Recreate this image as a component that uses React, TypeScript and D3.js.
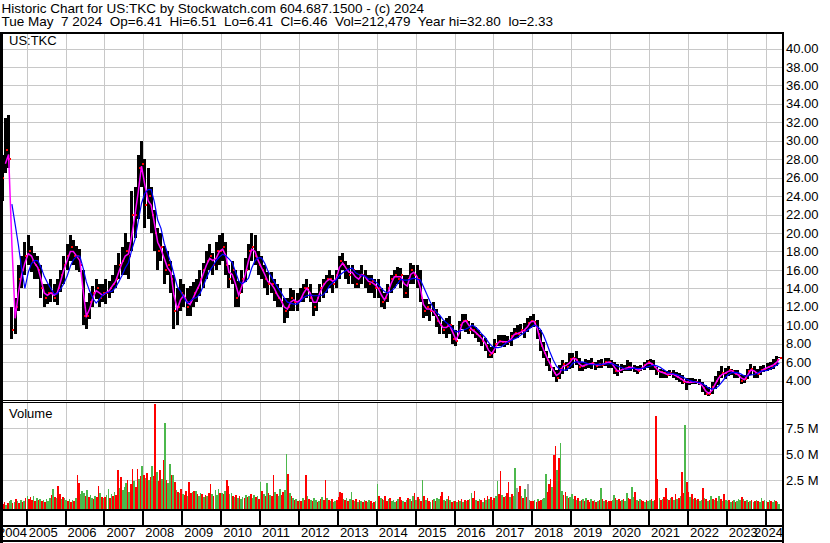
import React from 'react';
import * as d3 from 'd3';

const W = 830;
const H = 543;
const FONT = '"Liberation Sans", Arial, Helvetica, sans-serif';

const HEADER_LINE_1 = 'Historic Chart for US:TKC by Stockwatch.com 604.687.1500 - (c) 2024';
const HEADER_LINE_2 = 'Tue May  7 2024  Op=6.41  Hi=6.51  Lo=6.41  Cl=6.46  Vol=212,479  Year hi=32.80  lo=2.33';
const SYMBOL = 'US:TKC';
const VOLUME_TITLE = 'Volume';

const YEAR_LABELS = [2004, 2005, 2006, 2007, 2008, 2009, 2010, 2011, 2012, 2013, 2014, 2015, 2016, 2017, 2018, 2019, 2020, 2021, 2022, 2023, 2024];
const PRICE_TICKS = [4, 6, 8, 10, 12, 14, 16, 18, 20, 22, 24, 26, 28, 30, 32, 34, 36, 38, 40];
const VOLUME_TICKS = [2.5, 5, 7.5];

// Monthly bars, May 2004 .. May 2024
const PRICE_LOW = [
  23.5, 26.5, 27, 8.5, 9, 11.5, 14, 15.5,
  16.5, 15.8, 15, 15, 13, 12, 12.3, 12.5, 12.5, 12.2, 13.6, 14.5,
  16, 17, 16.5, 16, 15.8, 10, 9.6, 10.7, 12, 12.8, 12, 12.5,
  12.3, 13, 13.5, 14, 15, 15.5, 15.5, 15, 18, 19.5, 21.5, 25,
  20.5, 21.5, 20, 18, 16, 17, 14.5, 15.5, 13.5, 9.6, 10, 11.5,
  12, 11, 11, 12, 12.5, 13.2, 14, 15, 16, 15.5, 16, 16.5,
  17, 15.5, 14, 14.5, 12, 12, 13.5, 14.7, 16, 17, 16.5, 15.5,
  15, 14, 13.3, 13.5, 12.6, 12, 12, 10.2, 10.8, 11.5, 11.5, 11.5,
  12.5, 12.5, 13, 12.5, 11, 11.5, 12.5, 13, 13.5, 14, 13.5, 14,
  15, 16, 15, 14.5, 14.5, 14, 14, 14.5, 14, 13.5, 13.5, 13,
  13, 12, 11.8, 12.5, 13.5, 14, 14.5, 14, 13, 13, 14.5, 14.5,
  14, 12.5, 10.8, 11, 10.5, 11, 9.8, 9, 9, 8.6, 9, 8,
  7.8, 8.5, 9.6, 9.3, 9, 9, 8.6, 8.2, 7.8, 7.2, 6.4, 6.4,
  7, 7.7, 7.8, 7.6, 7.9, 7.8, 8.5, 8.6, 9, 8.6, 9.3, 9.7,
  9.8, 8.5, 7.2, 6.5, 5.6, 5, 4.4, 3.9, 4.2, 4.7, 5, 5.3,
  5.4, 5.7, 5, 5, 5.3, 5.4, 5.3, 5.2, 5.4, 5.4, 5.6, 5.4,
  5.4, 4.7, 4.5, 4.8, 5, 5, 5, 4.9, 4.7, 5, 5.2, 5.4,
  5.2, 5.1, 4.6, 4.3, 4.3, 4.3, 4.5, 4.3, 4.1, 3.9, 3.6, 3,
  3.5, 3.6, 3.6, 3.5, 2.8, 2.4, 2.33, 2.6, 3.1, 3.5, 4.3, 4.2,
  4.5, 4.6, 4.3, 4.3, 3.6, 3.7, 4.2, 4.6, 4.3, 4.3, 4.6, 4.9,
  5, 5.2, 5.3, 5.6, 6.41,
];

const PRICE_HIGH = [
  28.5, 32.5, 32.8, 12, 13, 16.5, 17.5, 19,
  19.8, 18.6, 17.8, 17.5, 16.5, 14.5, 14.5, 15, 14.5, 15, 16, 17.5,
  18.8, 19.8, 19.2, 18.6, 18.3, 16, 12.5, 13.5, 14.3, 15, 14.5, 14.5,
  15, 14.8, 15.5, 16.5, 17.8, 18.5, 20, 19, 24.5, 25, 28.5, 30,
  28, 27, 25, 22.5, 20.5, 20, 18.6, 18, 17, 15.5, 14, 15,
  14.5, 14, 14.3, 14.7, 15, 16, 16.8, 18, 18.8, 17.8, 19, 19.8,
  20, 19, 16.5, 17, 16, 14.8, 16, 17.3, 18.8, 20, 19.8, 18,
  17.5, 16.5, 15.8, 15.8, 15, 14.5, 14, 13, 13, 14, 13.8, 13.5,
  14, 14.5, 15, 14.5, 13.5, 13.5, 14.5, 15, 15.5, 16, 15.5, 16,
  17.5, 17.8, 17, 16.5, 16.5, 16, 16, 16.5, 16, 15.5, 15.5, 15,
  15, 14, 13.5, 14.5, 15.5, 16, 16.3, 16.2, 15.5, 15.5, 16.8, 16.5,
  16.5, 16, 12.8, 12.8, 12.3, 12.5, 11.8, 11, 10.5, 10.8, 11, 10,
  9.5, 10.5, 11.2, 11.2, 10.5, 10.2, 9.8, 9.5, 9, 8.6, 8, 7.6,
  8.5, 8.9, 8.9, 8.9, 8.8, 9.3, 9.7, 10, 10.1, 10.2, 10.8, 11,
  11.2, 10.6, 9.5, 8.2, 7.2, 6.5, 5.5, 5.1, 5.7, 6.2, 6, 7,
  7, 7.2, 6.5, 6, 6.3, 6.2, 6.4, 6, 6.2, 6.3, 6.4, 6.4,
  6.2, 6, 5.8, 5.8, 5.7, 6.2, 6, 5.7, 5.6, 5.7, 6, 6.2,
  6.3, 6.2, 5.5, 5.3, 5.2, 5, 5.1, 5.1, 4.9, 4.8, 4.6, 4.3,
  4.3, 4.3, 4.2, 4.2, 3.9, 3.5, 3.3, 3.8, 4.5, 5, 5.6, 5.4,
  5.6, 5.3, 5.2, 5.1, 4.6, 4.6, 5.3, 5.8, 5.6, 5.3, 5.6, 5.7,
  5.9, 6, 6.3, 6.7, 6.51,
];

const PRICE_CLOSE = [
  26, 29, 28, 9.5, 12, 15, 16, 17.5,
  18, 17, 16.5, 16, 14, 13, 13.5, 13.5, 13, 14, 15.5, 16.5,
  17.5, 18.5, 17.5, 17.5, 16.5, 11, 11, 12.5, 13.5, 14, 13, 13.5,
  13.5, 14, 14.5, 15, 16.5, 17, 18, 17.5, 22, 22, 27, 27.5,
  23, 24, 22, 20, 18, 18.5, 16, 16.5, 15, 11.5, 12, 13.5,
  13, 12, 12.5, 13.5, 14, 15, 16, 17, 17.5, 16.5, 18, 18,
  18.5, 16.5, 15, 16, 13, 13.5, 15, 16, 18, 18.5, 17.5, 16.5,
  16, 15, 14.5, 14.5, 13.5, 13, 12.5, 11.5, 12, 13, 12.5, 12.5,
  13, 14, 14, 13, 12, 13, 14, 14.5, 15, 15, 14.5, 15.5,
  17, 16.5, 16, 15.5, 16, 14.5, 15.5, 15.5, 15, 14.5, 14.8, 14,
  14, 12.5, 13, 14, 15, 15.5, 15, 15.5, 13.5, 15, 16, 15.5,
  15, 13, 11.5, 12, 11.5, 11.5, 10.5, 10, 9.5, 10, 10, 8.5,
  8.3, 10, 10.5, 10.5, 9.5, 9.5, 9, 8.8, 8.3, 7.8, 6.8, 7,
  8, 8.3, 8.2, 8.2, 8.2, 8.8, 9.2, 9, 9.5, 9.4, 10.2, 10.5,
  10.4, 9, 7.8, 7, 6.2, 5.5, 4.8, 4.3, 5.3, 5.8, 5.5, 6.3,
  6.5, 6.2, 5.5, 5.6, 5.8, 5.8, 5.9, 5.6, 5.8, 5.7, 6, 6,
  5.8, 5, 5, 5.3, 5.3, 5.5, 5.4, 5.3, 5, 5.4, 5.7, 6,
  5.8, 5.5, 5, 4.9, 4.8, 4.6, 4.8, 4.6, 4.4, 4.2, 3.9, 3.8,
  3.8, 3.9, 3.8, 3.7, 3.2, 2.6, 2.6, 3.3, 4, 4.5, 4.8, 4.8,
  5.2, 5, 4.7, 4.6, 4, 4.2, 5, 5.3, 4.8, 4.7, 5.2, 5.3,
  5.5, 5.6, 5.8, 6.2, 6.46,
];

// Half-month volume in millions, May 2004 .. May 2024
const VOLUME_M = [
  0.3, 0.2, 0.4, 0.1, 0.3, 0.5, 0.6, 0.3, 0.4, 0.7, 0.5, 0.3, 0.6, 0.4, 0.5, 0.8,
  1.0, 0.7, 0.9, 0.6, 1.0, 0.5, 0.8, 0.6, 0.7, 0.5, 0.6, 0.4, 0.7, 0.5, 0.8, 1.1, 1.7, 0.9, 0.8, 2.0, 1.2, 0.7, 0.9, 0.8,
  0.6, 0.5, 0.7, 0.4, 0.6, 0.5, 0.8, 3.0, 2.2, 1.2, 1.5, 1.3, 1.0, 1.6, 0.9, 1.1, 0.8, 0.7, 1.0, 0.9, 2.0, 1.3, 0.9, 0.8,
  0.9, 1.1, 1.7, 0.8, 1.2, 1.0, 1.4, 1.1, 3.5, 1.8, 2.8, 1.6, 1.9, 2.2, 2.5, 1.4, 2.1, 3.6, 2.4, 1.9, 3.6, 2.6, 2.9, 3.9,
  3.0, 2.7, 3.2, 2.5, 2.8, 3.9, 2.9, 9.8, 3.3, 2.4, 3.5, 2.6, 4.5, 8.0, 2.5, 2.2, 4.1, 3.0, 3.0, 2.3, 1.6, 1.4, 1.3, 1.7,
  1.2, 1.1, 1.5, 1.0, 2.3, 1.3, 1.4, 1.5, 1.5, 1.2, 1.0, 1.3, 1.2, 0.9, 1.1, 1.0, 1.3, 2.1, 1.2, 1.0, 1.6, 1.1, 1.7, 1.3,
  1.3, 1.2, 1.5, 2.5, 2.0, 1.2, 1.3, 1.0, 0.9, 1.1, 0.8, 1.0, 0.7, 0.9, 0.8, 1.1, 0.9, 1.0, 1.2, 0.8, 1.1, 0.9, 1.0, 0.7,
  2.3, 1.5, 1.2, 1.0, 2.2, 1.3, 1.1, 1.0, 3.0, 1.4, 1.2, 1.0, 1.7, 1.1, 1.4, 1.6, 5.0, 3.1, 1.3, 1.0, 0.8, 0.6, 0.7, 0.5,
  0.6, 0.5, 0.8, 0.6, 3.0, 1.0, 0.7, 0.6, 0.5, 0.8, 0.6, 0.4, 0.5, 0.7, 0.9, 0.6, 2.5, 0.8, 0.6, 0.5, 0.7, 0.4, 0.5, 0.6,
  0.9, 1.4, 1.3, 0.7, 0.6, 0.8, 0.5, 0.7, 1.4, 0.6, 0.5, 0.7, 0.4, 0.6, 0.5, 0.4, 0.6, 0.5, 0.4, 0.6, 0.5, 0.3, 0.4, 0.5,
  2.1, 1.0, 0.8, 0.7, 0.6, 1.0, 0.5, 0.7, 0.8, 0.5, 0.6, 0.4, 0.5, 0.7, 0.9, 0.6, 0.5, 0.4, 0.6, 0.8, 0.7, 0.5, 1.0, 1.3,
  0.6, 0.9, 0.7, 0.5, 2.5, 1.0, 0.6, 0.8, 0.5, 0.4, 0.6, 0.7, 0.5, 0.8, 0.7, 1.0, 1.4, 0.6, 0.5, 0.7, 1.0, 0.6, 0.4, 0.5,
  0.5, 0.4, 0.6, 0.5, 0.7, 0.4, 0.6, 0.5, 0.6, 0.7, 1.3, 0.8, 1.5, 0.6, 0.5, 0.7, 0.6, 0.4, 0.8, 0.6, 1.0, 0.7, 0.9, 0.6,
  0.8, 1.0, 2.4, 1.2, 3.4, 1.1, 0.9, 1.0, 1.3, 2.3, 0.9, 1.2, 1.0, 3.7, 1.8, 1.4, 2.0, 1.0, 0.8, 1.7, 0.9, 2.1, 0.6, 0.5,
  0.5, 0.6, 0.4, 0.7, 0.5, 0.6, 0.7, 0.8, 3.1, 1.4, 2.1, 2.6, 1.9, 4.9, 5.8, 3.5, 4.6, 6.1, 1.5, 1.1, 1.4, 1.0, 0.8, 0.9,
  1.2, 0.7, 1.0, 0.6, 0.8, 0.5, 0.6, 0.7, 0.5, 0.8, 0.6, 0.4, 0.7, 0.5, 0.6, 0.4, 0.5, 0.6, 1.8, 0.7, 0.5, 0.6, 0.4, 0.5,
  0.5, 0.6, 1.1, 0.8, 0.6, 0.7, 0.5, 0.6, 0.7, 0.5, 1.3, 0.8, 0.7, 1.9, 0.9, 1.4, 0.6, 0.5, 0.7, 0.6, 0.5, 0.4, 0.6, 0.5,
  0.6, 0.7, 0.5, 0.6, 8.7, 2.6, 0.8, 0.6, 0.7, 0.9, 1.8, 0.7, 0.6, 0.8, 0.9, 0.6, 1.2, 0.7, 0.8, 1.0, 3.3, 1.3, 7.8, 2.3,
  1.4, 0.9, 1.2, 0.7, 0.8, 0.6, 0.7, 0.5, 0.6, 1.8, 0.8, 0.7, 0.5, 0.6, 1.0, 0.7, 0.6, 0.8, 0.5, 1.0, 0.7, 0.5, 1.2, 0.6,
  0.5, 0.6, 0.4, 0.5, 0.6, 0.4, 0.5, 0.7, 0.6, 0.9, 0.7, 0.5, 0.6, 0.4, 0.5, 0.6, 0.4, 0.5, 0.6, 0.5, 0.4, 0.8, 0.5, 0.6,
  0.5, 0.4, 0.6, 0.5, 0.4, 0.6, 0.5, 0.4, 0.2,
];

// r = down, g = up, n = unchanged
const VOLUME_DIR = [
  'grrgrggrgrgrgrgr',
  'grrrgrgrgrgrgggrgrgrrgrg',
  'grgrgrgrrgggrgrggrgrrgrg',
  'rggrgrgrrgrgggrgrrgrrgrg',
  'rgrgrgrrgrrgrgrggrgrgrgr',
  'grrgrrgrgrggrgrgrrgrgggr',
  'grgrrggrgrgrggrgrgrggrgr',
  'grgrgrgrrgrggrrggrgrgrgr',
  'grgrrgrgrggrgrgrrgrgrggr',
  'rrrgrgrggrgrgrgrgrggrgrg',
  'grgrgrrgrgggrgrrgrgrgrgr',
  'grgrgrgrrgrgrggrrgrgrgrg',
  'rgrgrgrgrggrrgrgrgrgrgrg',
  'rggrrgrgrrgrggnrrgrgrngr',
  'rgrgrrgggrrrgrrgrggrrgrg',
  'ggrgrgrgrgrrgrgrgrgrgrgr',
  'rggrgrrgrggrrggrgrgrrgrg',
  'grgrrrgrgrrgrgrgrgrgrrgr',
  'rgrgrgrggrgrgrgrgrggrgrg',
  'grgrgrgggrgrgrgrgrgrggrg',
  'grgrggrgg',
].join('');

const FIRST_YEAR = 2004;
const FIRST_MONTH = 4; // May

function monthDate(i: number, n: number): Date {
  if (i === n - 1) return new Date(2024, 4, 7);
  return new Date(FIRST_YEAR, FIRST_MONTH + i, 15);
}
function halfMonthDate(j: number): Date {
  return new Date(FIRST_YEAR, FIRST_MONTH + Math.floor(j / 2), j % 2 === 0 ? 7 : 22);
}
function movingAverage(values: number[], n: number, start: number): (number | null)[] {
  return values.map((_, i) => {
    if (i < start) return null;
    const lo = Math.max(0, i - n + 1);
    return d3.mean(values.slice(lo, i + 1)) as number;
  });
}

const PANEL_LEFT = 3;
const PANEL_RIGHT = 782;
const PRICE_TOP = 33;
const PRICE_BOTTOM = 400;
const VOL_TOP = 403;
const VOL_BOTTOM = 509;

export default function App() {
  const x = d3.scaleTime()
    .domain([new Date(2005, 0, 1), new Date(2024, 0, 1)])
    .range([26.7, 765.7]);
  const y = d3.scaleLinear().domain([4, 40]).range([380.6, 48.5]);
  const yv = d3.scaleLinear().domain([0, 7.5]).range([506.3, 428.3]);

  const n = PRICE_CLOSE.length;
  const magenta = movingAverage(PRICE_CLOSE, 2, 1);
  const blue = movingAverage(PRICE_CLOSE, 5, 3);

  const lineGen = d3.line<number | null>()
    .defined((d) => d !== null)
    .x((_, i) => x(monthDate(i, n)))
    .y((d) => y(d as number));

  const yearStarts = YEAR_LABELS.filter((yr) => yr >= 2005).map((yr) => ({ yr, px: x(new Date(yr, 0, 1)) }));
  const crisp = (v: number) => Math.round(v) + 0.5;

  const gridColor = '#c8c8c8';

  return (
    <svg
      width={W}
      height={H}
      viewBox={`0 0 ${W} ${H}`}
      style={{ position: 'absolute', left: 0, top: 0, background: '#fff', fontFamily: FONT }}
    >
      <defs>
        <clipPath id="priceClip">
          <rect x={PANEL_LEFT} y={PRICE_TOP} width={PANEL_RIGHT - PANEL_LEFT} height={PRICE_BOTTOM - PRICE_TOP} />
        </clipPath>
        <clipPath id="volClip">
          <rect x={PANEL_LEFT} y={VOL_TOP} width={PANEL_RIGHT - PANEL_LEFT} height={VOL_BOTTOM - VOL_TOP} />
        </clipPath>
      </defs>
      <rect x={0} y={0} width={W} height={H} fill="#fff" />

      {/* header */}
      <text x={1.5} y={12.5} fontSize={13.5} fill="#000" style={{ whiteSpace: 'pre' }}>{HEADER_LINE_1}</text>
      <text x={1.5} y={26.3} fontSize={13.5} fill="#000" style={{ whiteSpace: 'pre' }}>{HEADER_LINE_2}</text>

      {/* grid */}
      <g shapeRendering="crispEdges">
        {PRICE_TICKS.map((t) => (
          <line key={`hp${t}`} x1={PANEL_LEFT} x2={PANEL_RIGHT} y1={crisp(y(t))} y2={crisp(y(t))} stroke={gridColor} strokeWidth={1} />
        ))}
        {yearStarts.map(({ yr, px }) => (
          <line key={`vp${yr}`} x1={crisp(px)} x2={crisp(px)} y1={PRICE_TOP} y2={PRICE_BOTTOM} stroke={gridColor} strokeWidth={1} />
        ))}
        {VOLUME_TICKS.map((t) => (
          <line key={`hv${t}`} x1={PANEL_LEFT} x2={PANEL_RIGHT} y1={crisp(yv(t))} y2={crisp(yv(t))} stroke={gridColor} strokeWidth={1} />
        ))}
        {yearStarts.map(({ yr, px }) => (
          <line key={`vv${yr}`} x1={crisp(px)} x2={crisp(px)} y1={VOL_TOP} y2={VOL_BOTTOM} stroke={gridColor} strokeWidth={1} />
        ))}
      </g>

      {/* price bars */}
      <g clipPath="url(#priceClip)">
        <g shapeRendering="crispEdges">
          {PRICE_CLOSE.map((c, i) => {
            const cx = x(monthDate(i, n));
            const top = y(PRICE_HIGH[i]);
            const bot = y(PRICE_LOW[i]);
            return (
              <rect key={`b${i}`} x={cx - 1.5} y={top} width={3} height={Math.max(1, bot - top)} fill="#000" />
            );
          })}
          {PRICE_CLOSE.map((c, i) => {
            const cx = x(monthDate(i, n));
            return <rect key={`c${i}`} x={cx + 0.4} y={y(c) - 1} width={2} height={2} fill="#ff0000" />;
          })}
        </g>
        <path d={lineGen(magenta) || ''} fill="none" stroke="#ff00ff" strokeWidth={1.5} />
        <path d={lineGen(blue) || ''} fill="none" stroke="#0000ff" strokeWidth={1.2} />
      </g>

      {/* volume bars */}
      <g clipPath="url(#volClip)" shapeRendering="crispEdges">
        {VOLUME_M.map((v, j) => {
          const cx = x(halfMonthDate(j));
          const top = yv(v);
          const dir = VOLUME_DIR[j];
          const fill = dir === 'r' ? '#ff0000' : dir === 'g' ? '#4cb84c' : '#a0a0a0';
          return <rect key={`v${j}`} x={cx - 0.8} y={top} width={1.6} height={VOL_BOTTOM - top} fill={fill} />;
        })}
      </g>

      {/* labels inside panels */}
      <text x={9} y={45} fontSize={13} fill="#000">{SYMBOL}</text>
      <text x={9} y={418} fontSize={13} fill="#000">{VOLUME_TITLE}</text>

      {/* right axis labels */}
      {PRICE_TICKS.map((t) => (
        <text key={`pl${t}`} x={786} y={y(t) + 4.6} fontSize={13} fill="#000">{t.toFixed(2)}</text>
      ))}
      {VOLUME_TICKS.map((t) => (
        <text key={`vl${t}`} x={786} y={yv(t) + 4.6} fontSize={13} fill="#000">{`${t.toFixed(1)} M`}</text>
      ))}

      {/* frame lines */}
      <g shapeRendering="crispEdges" fill="#000">
        <rect x={0} y={32} width={PANEL_RIGHT + 2} height={2} />
        <rect x={0} y={32} width={3} height={H - 32} />
        <rect x={PANEL_RIGHT} y={32} width={2} height={H - 32} />
        <rect x={0} y={400} width={PANEL_RIGHT} height={1} />
        <rect x={0} y={402} width={PANEL_RIGHT} height={1} />
        <rect x={0} y={509} width={PANEL_RIGHT} height={2} />
        <rect x={0} y={525} width={PANEL_RIGHT} height={2} />
        <rect x={0} y={540} width={PANEL_RIGHT} height={2} />
        {yearStarts.map(({ yr, px }) => (
          <rect key={`yt${yr}`} x={Math.round(px) - 1} y={511} width={2} height={14} />
        ))}
      </g>

      {/* year labels */}
      {YEAR_LABELS.map((yr) => {
        if (yr === 2004) {
          return <text key={`yl${yr}`} x={27} y={537} fontSize={13} fill="#000" textAnchor="end">{yr}</text>;
        }
        if (yr === 2024) {
          return <text key={`yl${yr}`} x={754} y={537} fontSize={13} fill="#000">{yr}</text>;
        }
        return <text key={`yl${yr}`} x={x(new Date(yr, 0, 1)) + 2} y={537} fontSize={13} fill="#000">{yr}</text>;
      })}
    </svg>
  );
}
